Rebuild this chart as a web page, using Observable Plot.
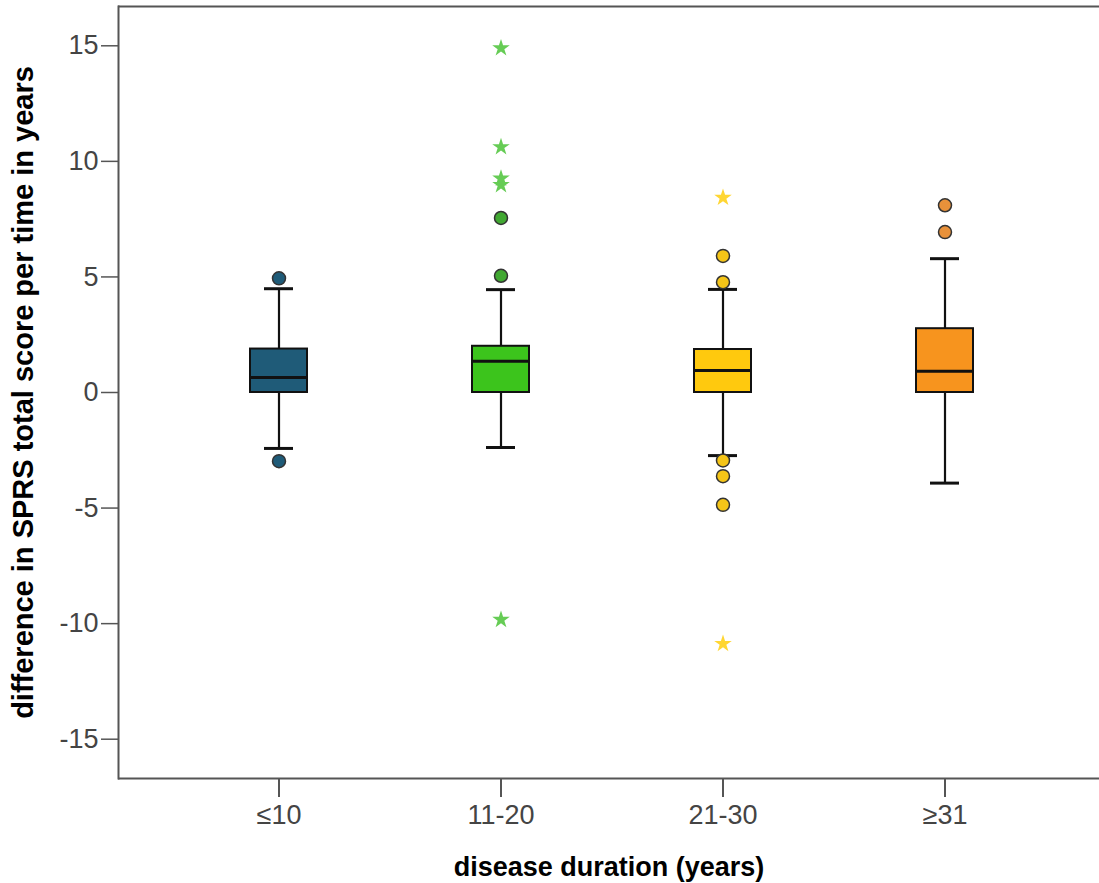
<!DOCTYPE html>
<html>
<head>
<meta charset="utf-8">
<script src="https://cdn.jsdelivr.net/npm/d3@7"></script>
<script src="https://cdn.jsdelivr.net/npm/@observablehq/plot@0.6"></script>
<style>
  html, body { margin: 0; padding: 0; background: #fff; }
  #chart svg { display: block; }
  g[aria-label="y-axis label"] text { font-weight: bold; font-size: 29px; fill: #000; }
  g[aria-label="x-axis label"] text { font-weight: bold; font-size: 27px; fill: #000; }
  g[aria-label="y-axis tick label"] text, g[aria-label="x-axis tick label"] text {
    fill: #444; font-size: 27px;
  }
</style>
</head>
<body>
<div id="chart"></div>
<script>
// Categories
const groups = ["≤10", "11-20", "21-30", "≥31"];
// Box statistics
const q1 = [0, 0, 0, 0];
const median = [0.65, 1.35, 0.95, 0.92];
const q3 = [1.88, 2.0, 1.86, 2.76];
const whiskerLow = [-2.42, -2.38, -2.73, -3.92];
const whiskerHigh = [4.49, 4.45, 4.46, 5.79];
// Outliers (circles) and extremes (stars)
const circleGroup = ["≤10", "≤10", "11-20", "11-20", "21-30", "21-30", "21-30", "21-30", "21-30", "≥31", "≥31"];
const circleValue = [4.94, -2.97, 7.55, 5.05, 5.91, 4.77, -2.94, -3.62, -4.86, 8.1, 6.94];
const starGroup = ["11-20", "11-20", "11-20", "11-20", "11-20", "21-30", "21-30"];
const starValue = [14.9, 10.62, 9.26, 8.98, -9.83, 8.43, -10.87];
const yTicks = [-15, -10, -5, 0, 5, 10, 15];
const yDomain = [-16.7, 16.7];

const boxColors = ["#1f5b78", "#3cc41c", "#ffc90e", "#f7941e"];
const circleColors = ["#1f5b78", "#41a832", "#f5c518", "#e8913a"];
const starColors = ["#1f5b78", "#66cc55", "#ffd633", "#f7941e"];

const boxes = groups.map((g, i) => ({
  group: g, q1: q1[i], median: median[i], q3: q3[i],
  lo: whiskerLow[i], hi: whiskerHigh[i], color: boxColors[i]
}));
const circles = circleGroup.map((g, i) => ({group: g, value: circleValue[i], color: circleColors[groups.indexOf(g)]}));
const stars = starGroup.map((g, i) => ({group: g, value: starValue[i], color: starColors[groups.indexOf(g)]}));

const frameColor = "#555";

const chart = Plot.plot({
  width: 1099,
  height: 883,
  marginLeft: 118,
  marginRight: 0,
  marginTop: 6,
  marginBottom: 105,
  style: {fontFamily: "'Liberation Sans', Arial, sans-serif", fontSize: "27px", background: "#fff"},
  color: {type: "identity"},
  x: {domain: groups, paddingInner: 0.743, paddingOuter: 0.578, align: 0.512},
  y: {domain: yDomain},
  marks: [
    Plot.ruleY(yDomain, {stroke: frameColor, strokeWidth: 2}),
    Plot.frame({anchor: "left", stroke: frameColor, strokeWidth: 2}),
    Plot.axisY({ticks: yTicks, tickFormat: d => String(d), tickSize: 17, tickPadding: 3, fontSize: 27,
      stroke: frameColor, strokeWidth: 1.5,
      label: "difference in SPRS total score per time in years", labelAnchor: "center", labelArrow: "none", labelOffset: 106}),
    Plot.axisX({tickSize: 19, tickPadding: 7, fontSize: 27, stroke: frameColor, strokeWidth: 2,
      label: "disease duration (years)", labelAnchor: "center", labelArrow: "none", labelOffset: 97}),
    Plot.ruleX(boxes, {x: "group", y1: "lo", y2: "hi", stroke: "#111", strokeWidth: 2.2}),
    Plot.tickY(boxes, {x: "group", y: "lo", insetLeft: 14, insetRight: 14, stroke: "#111", strokeWidth: 3}),
    Plot.tickY(boxes, {x: "group", y: "hi", insetLeft: 14, insetRight: 14, stroke: "#111", strokeWidth: 3}),
    Plot.barY(boxes, {x: "group", y1: "q1", y2: "q3", fill: "color", stroke: "#111", strokeWidth: 2}),
    Plot.tickY(boxes, {x: "group", y: "median", stroke: "#111", strokeWidth: 3}),
    Plot.dot(stars, {x: "group", y: "value", symbol: "star", r: 5.5, fill: "color", stroke: "none"}),
    Plot.dot(circles, {x: "group", y: "value", r: 6.5, fill: "color", stroke: "#333", strokeWidth: 1.5})
  ]
});
document.getElementById("chart").appendChild(chart);
</script>
</body>
</html>
